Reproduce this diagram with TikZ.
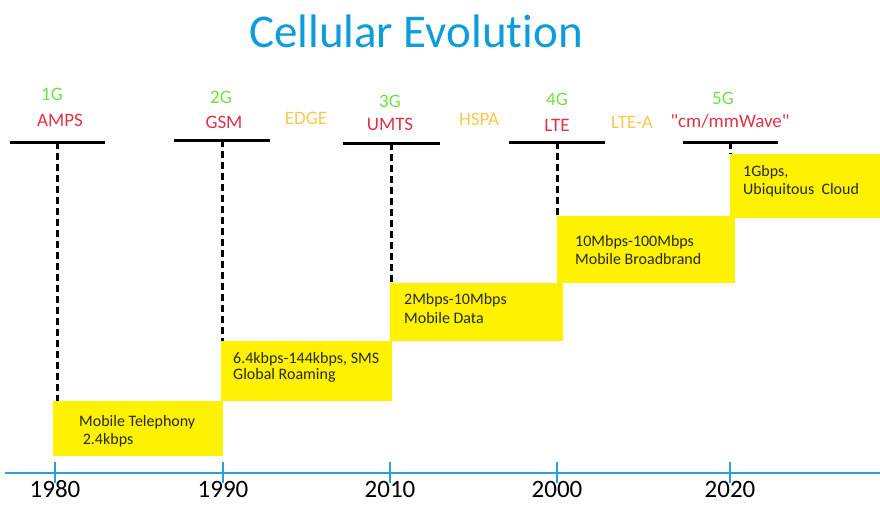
\documentclass[tikz,border=0pt]{standalone}
\usepackage{fontspec}
\setmainfont{Carlito}[Ligatures=NoCommon]
\usetikzlibrary{positioning}

\definecolor{titleblue}{RGB}{14,156,218}
\definecolor{gengreen}{RGB}{112,224,64}
\definecolor{techred}{RGB}{226,48,70}
\definecolor{stageamber}{RGB}{250,200,80}
\definecolor{boxyellow}{RGB}{255,242,0}
\definecolor{boxtext}{RGB}{40,40,30}
\definecolor{axisblue}{RGB}{40,160,220}

\begin{document}
\begin{tikzpicture}[x=1pt, y=-1pt,
    lbl/.style={inner sep=0pt, font=\fontsize{19}{21}\selectfont, text height=13pt, text depth=3pt},
    gen/.style={lbl, text=gengreen},
    tech/.style={lbl, text=techred},
    stage/.style={lbl, text=stageamber},
    bar/.style={fill=black, inner sep=0pt, minimum height=3pt},
    ybox/.style={fill=boxyellow, inner sep=0pt, anchor=north west},
    btxt/.style={inner sep=0pt, align=left, text=boxtext, font=\fontsize{16}{18}\selectfont},
    drop/.style={line width=3pt, dash pattern=on 7pt off 4pt},
    axis/.style={draw=axisblue, line width=1.6pt},
    year/.style={inner sep=0pt, anchor=north, font=\fontsize{25}{27}\selectfont, text height=16pt, text depth=0pt}]
  \useasboundingbox (0,0) rectangle (880,504);

  % Define nodes
  \node[text=titleblue, font=\fontsize{47}{50}\selectfont] (title) at (416,31) {Cellular Evolution};

  \node[tech] (amps) at (60,121)  {AMPS};
  \node[tech] (gsm)  at (224,123) {GSM};
  \node[tech] (umts) at (390,125) {UMTS};
  \node[tech] (lte)  at (557,126) {LTE};
  \node[tech] (mmw)  at (730,122) {\textquotedbl cm/mmWave\textquotedbl};
  \node[gen, above=9pt of amps, xshift=-8pt] (g1) {1G};
  \node[gen, above=8pt of gsm, xshift=-3pt]  (g2) {2G};
  \node[gen, above=6pt of umts]              (g3) {3G};
  \node[gen, above=9pt of lte]               (g4) {4G};
  \node[gen, above=6pt of mmw, xshift=-7pt]  (g5) {5G};
  \node[stage] (edge) at (306,119) {EDGE};
  \node[stage] (hspa) at (479,120) {HSPA};
  \node[stage] (ltea) at (632,123) {LTE-A};

  \node[bar, minimum width=95pt] (bar1) at (57,142) {};
  \node[bar, minimum width=96pt] (bar2) at (222,140) {};
  \node[bar, minimum width=97pt] (bar3) at (391,143) {};
  \node[bar, minimum width=96pt] (bar4) at (557,142) {};
  \node[bar, minimum width=95pt] (bar5) at (730,142) {};

  \node[ybox, minimum width=170pt, minimum height=55pt] (box1) at (53,401) {};
  \node[ybox, minimum width=171pt, minimum height=60pt] (box2) at (221,341) {};
  \node[ybox, minimum width=173pt, minimum height=58pt] (box3) at (390,283) {};
  \node[ybox, minimum width=178pt, minimum height=67pt] (box4) at (557,216) {};
  \node[ybox, minimum width=150pt, minimum height=64pt] (box5) at (730,154) {};

  \node[btxt, below right=14pt and 26pt of box1.north west] (txt1) {Mobile Telephony\\[0pt]\ 2.4kbps};
  \node[btxt, below right=11pt and 12pt of box2.north west] (txt2) {6.4kbps-144kbps, SMS\\[-2pt]Global Roaming};
  \node[btxt, below right=10pt and 14pt of box3.north west] (txt3) {2Mbps-10Mbps\\[1pt]Mobile Data};
  \node[btxt, below right=19pt and 18pt of box4.north west] (txt4) {10Mbps-100Mbps\\Mobile Broadbrand};
  \node[btxt, below right=11pt and 13pt of box5.north west] (txt5) {1Gbps,\\Ubiquitous\ \ Cloud};

  \coordinate (axl) at (5,473);
  \coordinate (axr) at (880,473);
  \node[year] (y1980) at (55,481)  {1980};
  \node[year] (y1990) at (223,481) {1990};
  \node[year] (y2010) at (390,481) {2010};
  \node[year] (y2000) at (557,481) {2000};
  \node[year] (y2020) at (730,481) {2020};

  % Connect nodes
  \draw[drop] (bar1.center) -- (bar1 |- box1.north);
  \draw[drop] (bar2.center) -- (bar2 |- box2.north);
  \draw[drop] (bar3.center) -- (bar3 |- box3.north);
  \draw[drop] (bar4.center) -- (bar4 |- box4.north);
  \draw[drop] (bar5.center) -- (bar5 |- box5.north);

  \draw[axis] (axl) -- (axr);
  \foreach \y in {y1980,y1990,y2010,y2000,y2020}
    \draw[axis] (\y.north) ++(0,2) -- ++(0,-21);
\end{tikzpicture}
\end{document}
